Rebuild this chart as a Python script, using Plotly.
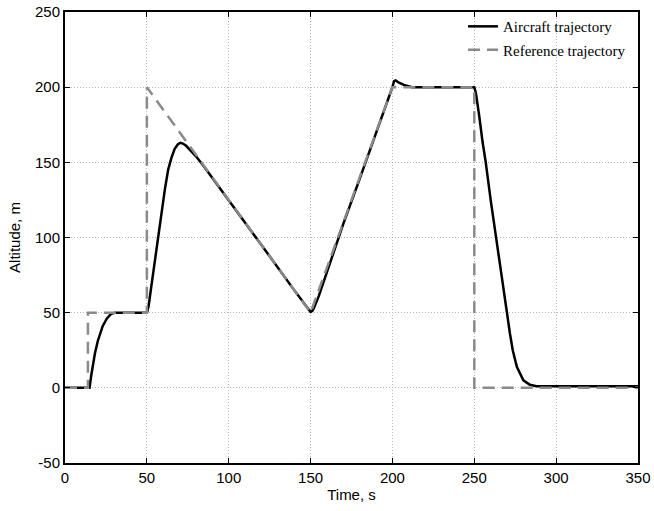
import plotly.graph_objects as go

# Reference trajectory
ref_t = [0, 14, 14, 50, 50, 150, 200, 250, 250, 350]
ref_h = [0, 0, 50, 50, 200, 50, 200, 200, 0, 0]

# Aircraft trajectory
ac_t = [0, 15, 16, 17, 18.3, 20, 21.4, 23, 25.5, 28, 30.5, 50,
        51, 53, 55, 57, 59, 61, 63, 65, 67, 69, 70.5, 72, 74, 77, 80, 85,
        100, 120, 140, 148, 150, 151, 152, 155, 160, 170, 180, 190, 198,
        200, 201, 202, 204, 207, 212,
        250, 251, 252, 253, 255, 257, 260, 263.3, 266, 269.8, 271.8, 273.5,
        276, 280, 284, 288, 350]
ac_h = [0, 0, 8, 15, 23, 31, 36, 41, 46, 49, 50, 50,
        54, 70, 86, 102, 117, 132, 145, 153, 159, 162, 163, 162.5, 161, 157.5, 154, 147,
        125, 95, 65, 53, 50.5, 51, 53, 61, 77, 109, 139, 169, 193,
        200, 204, 204.5, 203, 201.5, 200,
        200, 196, 189, 181, 164, 150, 125, 100, 78, 50, 36, 25,
        14, 5, 2, 1, 1]

x_ticks = [0, 50, 100, 150, 200, 250, 300, 350]
x_labels = ["0", "50", "100", "150", "200", "250", "300", "350"]
y_ticks = [-50, 0, 50, 100, 150, 200, 250]
y_labels = ["-50", "0", "50", "100", "150", "200", "250"]

fig = go.Figure()
fig.add_trace(go.Scatter(x=ac_t, y=ac_h, mode="lines", name="Aircraft trajectory",
                         legendgroup="a",
                         line=dict(color="black", width=2.5)))
fig.add_trace(go.Scatter(x=ref_t, y=ref_h, mode="lines", name="Reference trajectory",
                         legendgroup="b",
                         line=dict(color="#8a8a8a", width=2.5, dash="12px,7px")))

axis_common = dict(
    showline=True, linecolor="black", linewidth=2, mirror="ticks",
    ticks="inside", ticklen=5, tickcolor="black", tickwidth=1,
    showgrid=True, gridcolor="#b5b5b5", griddash="1px,2px", gridwidth=1,
    zeroline=False, automargin=False,
    tickfont=dict(family="Liberation Sans, Arial", size=15, color="black"),
)

fig.update_xaxes(range=[0, 350], tickvals=x_ticks, ticktext=x_labels,
                 title=dict(text="Time, s", font=dict(family="Liberation Sans, Arial", size=15, color="black"), standoff=4),
                 **axis_common)
fig.update_yaxes(range=[-50, 250], tickvals=y_ticks, ticktext=y_labels,
                 title=dict(text="Altitude, m", font=dict(family="Liberation Sans, Arial", size=15, color="black"), standoff=11),
                 **axis_common)

fig.update_layout(
    width=654, height=511,
    margin=dict(l=65, r=16, t=11, b=48),
    plot_bgcolor="white", paper_bgcolor="white",
    showlegend=True,
    legend=dict(x=0.6946, y=1.002, xanchor="left", yanchor="top",
                bgcolor="rgba(0,0,0,0)", borderwidth=0,
                font=dict(family="Liberation Serif, Times New Roman", size=15, color="black"),
                tracegroupgap=1),
)

fig.write_html("out.html", config={"displayModeBar": False},
               post_script="document.body.style.margin='0';document.body.style.overflow='hidden';")
